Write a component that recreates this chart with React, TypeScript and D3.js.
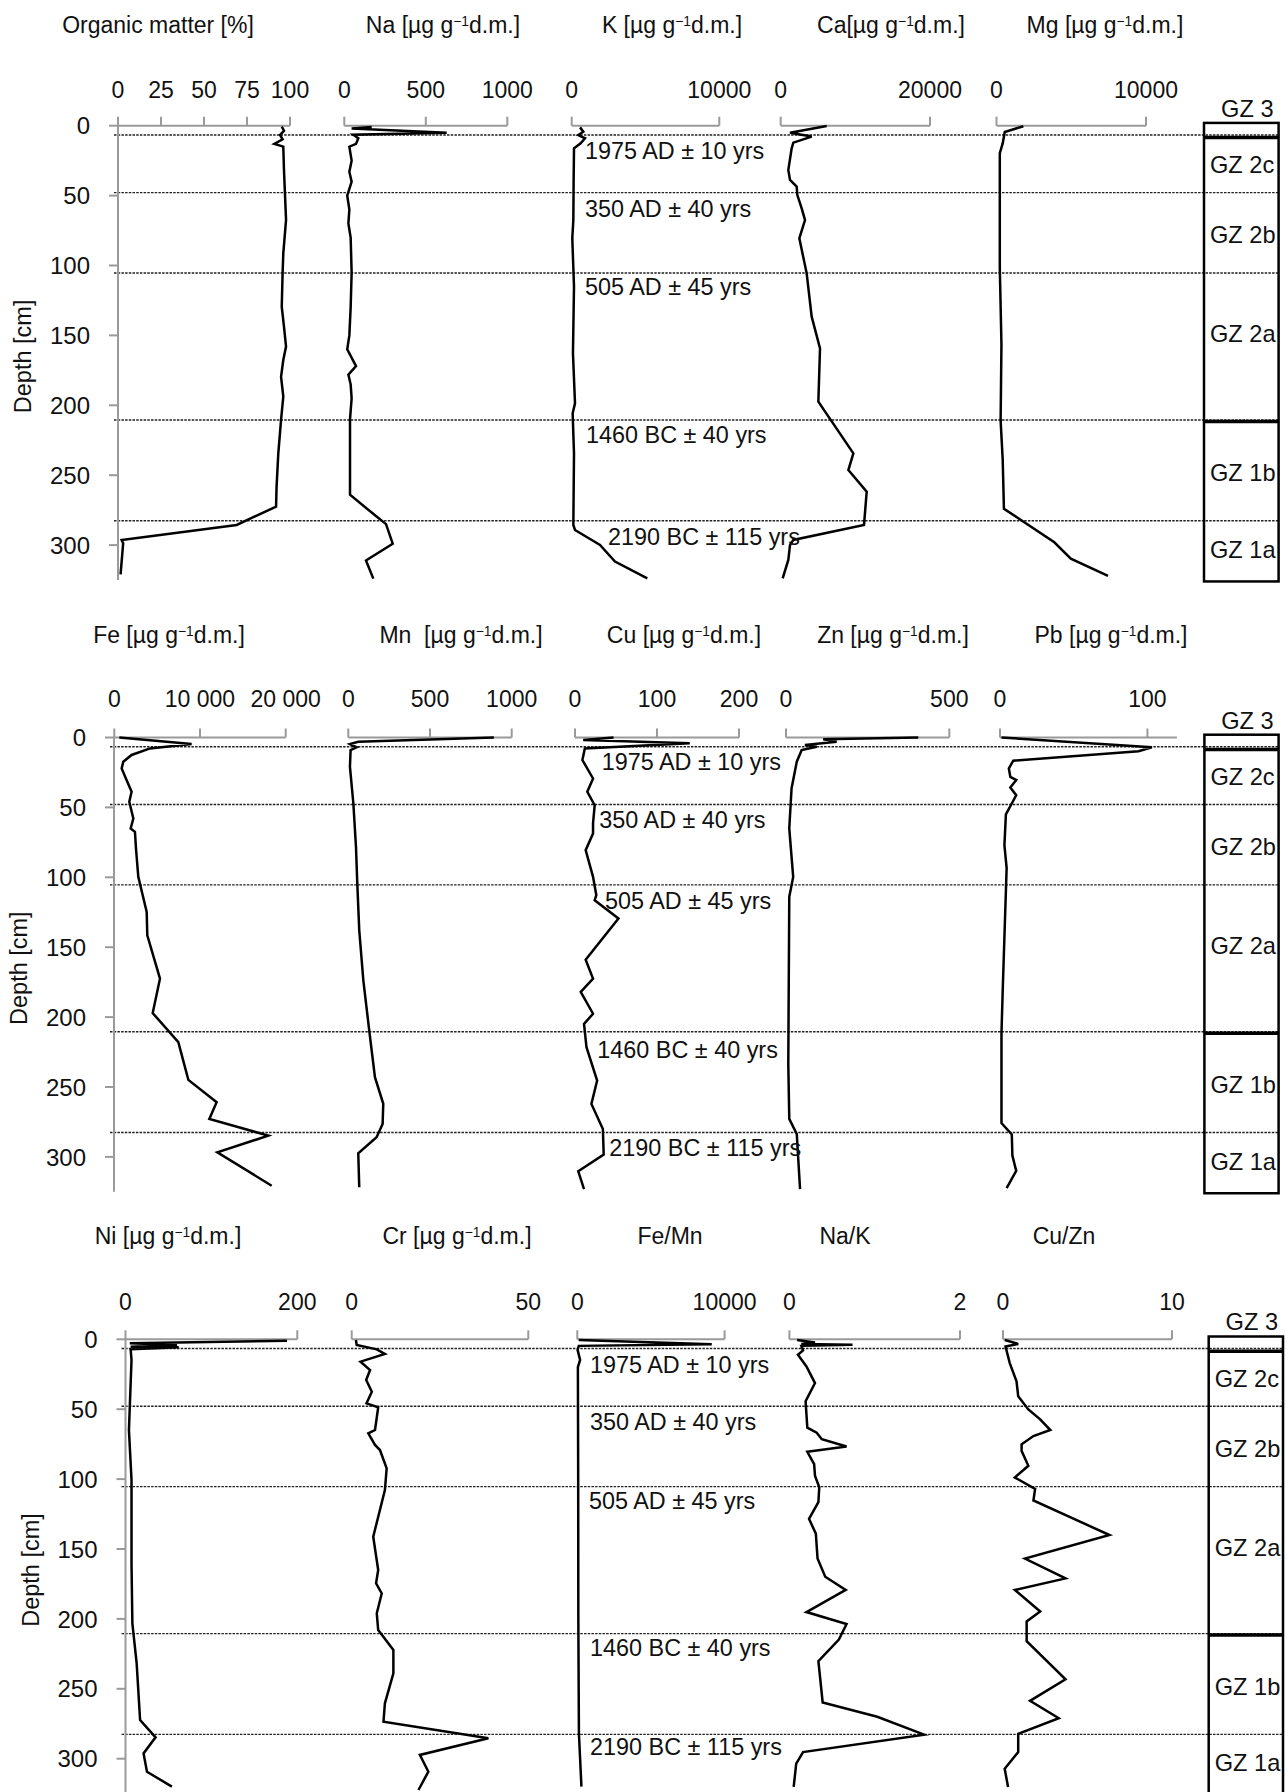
import React from "react";
import * as d3 from "d3";

type Pt = [number, number]; // [depth cm, value]

const depthTicks = [0, 50, 100, 150, 200, 250, 300];
const boundaryDepths = [6.6, 47.9, 105.4, 210.5, 282.6];
const thickZoneDepths = [8.5, 211.5];
const dateLabels = ["1975 AD ± 10 yrs", "350 AD ± 40 yrs", "505 AD ± 45 yrs", "1460 BC ± 40 yrs", "2190 BC ± 115 yrs"];
const zoneNames = ["GZ 2c", "GZ 2b", "GZ 2a", "GZ 1b", "GZ 1a"];
const zoneLabelDepths = [28, 78, 149, 248, 303];

const organicMatter: Pt[] = [[0.7,95.2],[3.6,96.5],[6.6,94.2],[9.8,95.7],[13.1,90.9],[15,96.1],[31.7,96.5],[67.5,97.7],[91.3,96.1],[105.6,95.7],[129.4,95.2],[143.7,96.5],[158,97.7],[167.6,96.1],[179.5,94.8],[193.8,96.1],[210.5,94.8],[234.4,93.2],[258.2,92.2],[272.5,91.9],[285.6,69],[296.3,2.1],[298.7,3],[321,1.5]];
const sodium: Pt[] = [[1,168],[2,45],[5,628],[6.5,55],[9,86],[13,72],[15,31],[25,45],[33,31],[40,45],[50,18],[60,31],[70,25],[80,39],[105,45],[130,39],[150,31],[160,18],[172,72],[178,25],[185,39],[195,45],[210,35],[240,35],[264,35],[279.6,198],[285,256],[299,297],[311,133],[324,178]];
const potassium: Pt[] = [[1.2,562],[4.3,788],[6.7,449],[9,901],[12.6,607],[16.2,156],[40,130],[67.5,111],[80.6,40],[115.1,156],[162.8,85],[198.6,224],[205.7,65],[234.4,156],[285.6,111],[289.2,224],[299.9,1917],[311.8,2933],[323.8,5124]];
const calcium: Pt[] = [[0.2,6160],[5,1246],[7.8,4150],[12.1,1692],[16.2,1468],[31.7,1021],[38.8,1246],[43.6,2140],[49.6,2230],[59.1,2810],[67.5,3257],[80.6,2497],[105.6,3480],[136.6,4150],[159.3,5267],[197.4,5045],[234.4,9735],[246.3,9065],[261.8,11520],[285.6,11160],[296.3,1692],[300,1246],[310.6,1020],[323.8,264]];
const magnesium: Pt[] = [[0.4,1796],[4.5,552],[12.7,414],[19.6,221],[101.7,221],[156.4,331],[211,276],[238.6,414],[274,497],[298,3867],[309.7,4972],[322,7458]];
const iron: Pt[] = [[0,587],[4.7,9020],[7.8,4170],[12.5,2020],[17.3,1050],[22.1,860],[30.5,1440],[38.8,2020],[46,1750],[57.9,2220],[65.1,1910],[67.5,2410],[79.4,2530],[99.7,2800],[124.8,3780],[141.5,3850],[172.5,5330],[197.1,4480],[217.9,7470],[244.9,8640],[260.9,11940],[272.8,11090],[284.8,17970],[296.7,12020],[320.6,18360]];
const manganese: Pt[] = [[0,891],[3,61],[4.7,10],[7,51],[9,14],[20.9,10],[47.2,31],[78.2,47],[104.5,55],[137.9,67],[173.7,92],[209.5,128],[243,163],[262,214],[276.4,210],[285.9,173],[297.4,61],[321.7,67]];
const copper: Pt[] = [[0,47],[1.8,10],[4.2,140],[7.8,12],[16.1,9],[29.3,22],[38.8,15],[48.4,24],[61.5,22],[68.7,22],[80.6,13],[99.7,22],[112.8,26],[116.4,24],[129.5,53],[158.9,13],[172.5,22],[182,7],[197.6,22],[204.8,11],[221.5,14],[245.4,27],[262.1,20],[280,34],[298.4,35],[310.3,4],[323,11]];
const zinc: Pt[] = [[0,405],[1.3,114],[3,155],[5.4,58],[6.6,94],[9,48],[17.3,33],[36.4,17],[65,10],[99.7,22],[114,10],[233.4,7],[272.8,10],[283.6,33],[323,43]];
const lead: Pt[] = [[0,1],[7,103],[9.8,94],[16.6,9],[22.1,6],[28.2,7],[30.4,11],[35.8,7],[41.3,11],[55,4],[77,3],[93.4,4.5],[175.6,2],[211.3,1],[275.8,1],[284,8],[299,8.4],[310,11],[322.3,4.5]];
const nickel: Pt[] = [[1,188],[2.9,5],[4.1,60],[5.3,6],[5.7,62],[7.2,6],[14.8,7],[64.9,4],[100.6,7],[160.3,7],[203.2,8],[231.8,13],[272.3,17],[284.7,35],[296.2,21],[309.3,25],[320,54]];
const chromium: Pt[] = [[0.5,1.2],[4.1,1.4],[7.2,7.1],[10.5,9.4],[16,2.5],[22,5.2],[29.1,4.1],[37.5,5.7],[45.8,4.2],[48.7,7.5],[64.9,6.6],[67.3,4.7],[75.6,6.6],[79.2,8],[92.3,9.9],[107.8,9.4],[141.2,6.1],[165,7.5],[174.6,6.9],[181.8,8.5],[196,7.1],[207.9,7.5],[222.2,11.8],[238.9,11.8],[260.4,9.4],[273.5,9],[285.4,38.7],[297.3,19.3],[309.3,21.7],[322.4,18.9]];
const feMn: Pt[] = [[0.5,100],[3.5,9130],[4.7,100],[7.6,20],[14.7,190],[20,40],[100,60],[200,70],[282,110],[320,280]];
const naK: Pt[] = [[0.5,0.09],[2.3,0.3],[3.3,0.14],[3.9,0.74],[4.7,0.14],[8,0.16],[11.1,0.1],[19.4,0.2],[31.3,0.3],[44.3,0.19],[63.2,0.21],[66.8,0.32],[71.5,0.38],[76.7,0.67],[80.5,0.21],[89.3,0.29],[97.6,0.3],[105.8,0.35],[116.5,0.34],[128.4,0.23],[139,0.31],[156.8,0.33],[169.8,0.42],[179.3,0.66],[195.1,0.2],[203.7,0.67],[214.8,0.58],[230.2,0.34],[259.8,0.39],[270,1.03],[282.8,1.58],[295.3,0.16],[303.6,0.08],[320.2,0.05]];
const cuZn: Pt[] = [[0.5,0.1],[3.3,0.9],[5.2,0.15],[12.3,0.3],[17,0.4],[30,0.8],[40.7,0.9],[50.2,1.5],[57.3,2.2],[64.9,2.8],[69.2,1.8],[75.1,1.1],[79.8,1.1],[90.5,1.5],[98.8,0.7],[107,1.9],[115.3,1.8],[140,6.3],[156.8,1.3],[171,3.7],[179.3,0.7],[194.7,2.2],[201.8,1.4],[216,1.4],[243.2,3.7],[258.6,1.6],[271,3.3],[282.3,0.9],[295.3,0.9],[307.2,0.1],[320.2,0.3]];

const FONT = "'Liberation Sans', Arial, Helvetica, sans-serif";
const PX_PER_CM = 1.398;

type Panel = { title: string[]; titleX: number; x0: number; x1: number; max: number; ticks: number[]; labels?: string[]; data: Pt[] };
type Row = { y0: number; axisX: number; titleY: number; tickY: number; box: [number, number]; dateX: number[]; dateD: number[]; panels: Panel[] };

const U = (el: string) => [el + " [µg g", "−1", "d.m.]"];

const rows: Row[] = [
  {
    y0: 125.7, axisX: 118, titleY: 25, tickY: 90, box: [1204, 1278.6],
    dateX: [585, 585, 585, 586, 608], dateD: [17.9, 59.1, 115.2, 221.2, 294],
    panels: [
      { title: ["Organic matter [%]"], titleX: 158, x0: 118, x1: 290, max: 100, ticks: [0, 25, 50, 75, 100], data: organicMatter },
      { title: U("Na"), titleX: 443, x0: 344.3, x1: 507.3, max: 1000, ticks: [0, 500, 1000], data: sodium },
      { title: U("K"), titleX: 672, x0: 571.7, x1: 719.3, max: 10000, ticks: [0, 10000], data: potassium },
      { title: ["Ca[µg g", "−1", "d.m.]"], titleX: 891, x0: 780.7, x1: 930, max: 20000, ticks: [0, 20000], data: calcium },
      { title: U("Mg"), titleX: 1105, x0: 996.5, x1: 1146, max: 10000, ticks: [0, 10000], data: magnesium },
    ],
  },
  {
    y0: 737.5, axisX: 114, titleY: 635, tickY: 699, box: [1204.4, 1278.6],
    dateX: [601.7, 599.3, 605, 597.3, 609.3], dateD: [17.3, 58.6, 116.9, 223.4, 293.6],
    panels: [
      { title: U("Fe"), titleX: 169, x0: 114.3, x1: 285.7, max: 20000, ticks: [0, 10000, 20000], labels: ["0", "10 000", "20 000"], data: iron },
      { title: ["Mn\u00a0\u00a0[µg g", "−1", "d.m.]"], titleX: 461, x0: 348.3, x1: 511.7, max: 1000, ticks: [0, 500, 1000], data: manganese },
      { title: U("Cu"), titleX: 684, x0: 575, x1: 739, max: 200, ticks: [0, 100, 200], data: copper },
      { title: U("Zn"), titleX: 893, x0: 786, x1: 949.3, max: 500, ticks: [0, 500], data: zinc },
      { title: U("Pb"), titleX: 1111, x0: 1000, x1: 1176.9, max: 120, ticks: [0, 100], data: lead },
    ],
  },
  {
    y0: 1339.3, axisX: 125.5, titleY: 1236, tickY: 1302, box: [1208.7, 1283],
    dateX: [590, 590, 589, 590, 590], dateD: [18.2, 58.5, 115.3, 220.2, 291.3],
    panels: [
      { title: U("Ni"), titleX: 168, x0: 125.5, x1: 297.3, max: 200, ticks: [0, 200], data: nickel },
      { title: U("Cr"), titleX: 457, x0: 351.7, x1: 528.3, max: 50, ticks: [0, 50], data: chromium },
      { title: ["Fe/Mn"], titleX: 670, x0: 577.3, x1: 724.6, max: 10000, ticks: [0, 10000], data: feMn },
      { title: ["Na/K"], titleX: 845, x0: 789.4, x1: 960, max: 2, ticks: [0, 2], data: naK },
      { title: ["Cu/Zn"], titleX: 1064, x0: 1003, x1: 1172, max: 10, ticks: [0, 10], data: cuZn },
    ],
  },
];

const AXIS = "#9a9a9a";

function RowView({ row, idx }: { row: Row; idx: number }) {
  const y = d3.scaleLinear().domain([0, 300]).range([row.y0, row.y0 + 300 * PX_PER_CM]);
  const [bx0, bx1] = row.box;
  const clipId = `boxclip${idx}`;
  return (
    <g>
      {/* zone boundary dotted lines */}
      {boundaryDepths.map((d, i) => (
        <line key={"b" + i} x1={row.axisX - 4} x2={bx1} y1={y(d)} y2={y(d)} stroke="#222" strokeWidth={1.4} strokeDasharray="2.5,1.2" />
      ))}
      {/* depth axis */}
      <line x1={row.axisX} x2={row.axisX} y1={y(0)} y2={y(325)} stroke={AXIS} strokeWidth={2} />
      {depthTicks.map((t) => (
        <g key={"dt" + t}>
          <line x1={row.axisX - 9} x2={row.axisX} y1={y(t)} y2={y(t)} stroke={AXIS} strokeWidth={2} />
          <text x={row.axisX - 28} y={y(t)} dy="0.36em" textAnchor="end" fontSize={24} fontFamily={FONT} fill="#111">{t}</text>
        </g>
      ))}
      <text transform={`translate(${row.axisX - 95},${y(165)}) rotate(-90)`} dy="0.36em" textAnchor="middle" fontSize={23.5} fontFamily={FONT} fill="#111">Depth [cm]</text>
      {/* panels */}
      {row.panels.map((p, pi) => {
        const x = d3.scaleLinear().domain([0, p.max]).range([p.x0, p.x1]);
        const line = d3.line<Pt>().x((d) => x(d[1])).y((d) => y(d[0]));
        return (
          <g key={"p" + pi}>
            <line x1={p.x0} x2={p.x1} y1={y(0)} y2={y(0)} stroke={AXIS} strokeWidth={2} />
            {p.ticks.map((t, ti) => (
              <g key={"t" + ti}>
                <line x1={x(t)} x2={x(t)} y1={y(0)} y2={y(0) - 9} stroke={AXIS} strokeWidth={2} />
                <text x={x(t)} y={row.tickY} dy="0.36em" textAnchor="middle" fontSize={23} fontFamily={FONT} fill="#111">
                  {p.labels ? p.labels[ti] : String(t)}
                </text>
              </g>
            ))}
            <text x={p.titleX} y={row.titleY} dy="0.36em" textAnchor="middle" fontSize={23} fontFamily={FONT} fill="#111">
              <tspan>{p.title[0]}</tspan>
              {p.title.length > 1 && <tspan baselineShift="super" fontSize="60%">{p.title[1]}</tspan>}
              {p.title.length > 2 && <tspan>{p.title[2]}</tspan>}
            </text>
            <path d={line(p.data) || ""} fill="none" stroke="#000" strokeWidth={2.5} strokeLinejoin="miter" strokeMiterlimit={4} />
          </g>
        );
      })}
      {/* date labels */}
      {dateLabels.map((s, i) => (
        <text key={"dl" + i} x={row.dateX[i]} y={y(row.dateD[i])} dy="0.36em" fontSize={23.4} fontFamily={FONT} fill="#111">{s}</text>
      ))}
      {/* zone box */}
      <clipPath id={clipId}>
        <rect x={bx0} y={y(-2)} width={bx1 - bx0} height={y(326) - y(-2)} />
      </clipPath>
      <g clipPath={`url(#${clipId})`}>
        {zoneNames.map((z, i) => (
          <text key={"z" + i} x={bx0 + 6} y={y(zoneLabelDepths[i])} dy="0.36em" fontSize={23.6} fontFamily={FONT} fill="#111">{z}</text>
        ))}
      </g>
      <text x={(bx0 + bx1) / 2 + 6} y={y(-12.5)} dy="0.36em" textAnchor="middle" fontSize={23.6} fontFamily={FONT} fill="#111">GZ 3</text>
      <rect x={bx0} y={y(-2)} width={bx1 - bx0} height={y(326) - y(-2)} fill="none" stroke="#000" strokeWidth={2.5} />
      {thickZoneDepths.map((d, i) => (
        <line key={"tz" + i} x1={bx0} x2={bx1} y1={y(d)} y2={y(d)} stroke="#000" strokeWidth={3.5} />
      ))}
    </g>
  );
}

export default function App() {
  return (
    <svg width={1287} height={1792} viewBox="0 0 1287 1792" style={{ position: "absolute", left: 0, top: 0, background: "#fff" }}>
      <rect x={0} y={0} width={1287} height={1792} fill="#fff" />
      {rows.map((r, i) => (
        <RowView key={i} row={r} idx={i} />
      ))}
    </svg>
  );
}
